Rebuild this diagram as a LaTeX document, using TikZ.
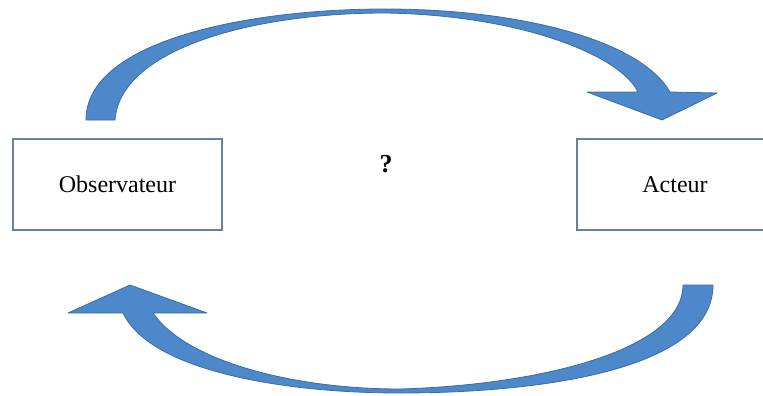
\documentclass[tikz,border=0pt]{standalone}
\usepackage{fontspec}
\setmainfont{Liberation Serif}
\definecolor{boxcol}{RGB}{105,128,158}
\definecolor{arrfill}{RGB}{76,136,202}
\definecolor{arredge}{RGB}{62,108,160}
\begin{document}
\begin{tikzpicture}[x=1pt,y=-1pt,
  box/.style={draw=boxcol,line width=1.6pt,fill=white,inner sep=0pt,
    font=\fontsize{24}{28}\selectfont},
  blockarrow/.style={fill=arrfill,draw=arredge,line width=0.8pt,line join=round},
  qmark/.style={font=\fontsize{26}{30}\selectfont\bfseries}]
\useasboundingbox (0,0) rectangle (763,396);
\node[box,minimum width=209pt,minimum height=91pt] (obs) at (117.5,184.5) {Observateur};
\node[box,minimum width=196pt,minimum height=91pt] (act) at (675,184.5) {Acteur};
\node[qmark] (q) at (386,164) {?};
% top curved arrow (Observateur -> Acteur)
\path[blockarrow] (86,120)
  .. controls (86,40) and (250,9) .. (385,9)
  .. controls (520,9) and (640,40) .. (670,92)
  -- (717,93) -- (662,120) -- (587,92) -- (638,92)
  .. controls (620,55) and (520,15) .. (385,13)
  .. controls (250,13) and (120,50) .. (115,120) -- cycle;
% bottom curved arrow (Acteur -> Observateur)
\path[blockarrow] (713,285)
  .. controls (713,370) and (540,393) .. (400,393)
  .. controls (280,393) and (150,370) .. (123,313)
  -- (68,313) -- (130,285) -- (207,313) -- (153,313)
  .. controls (185,360) and (290,389) .. (400,389)
  .. controls (540,385) and (683,350) .. (683,285) -- cycle;
\end{tikzpicture}
\end{document}
